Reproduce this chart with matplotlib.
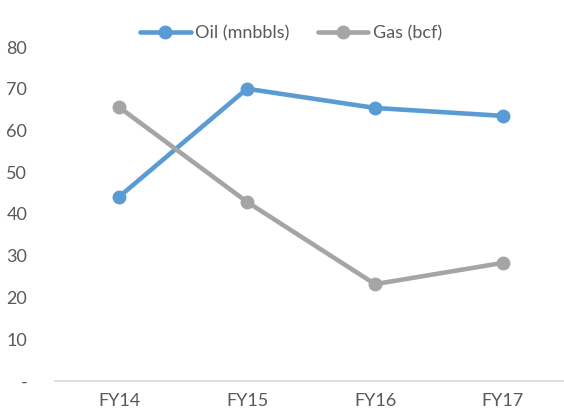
import matplotlib
matplotlib.use("Agg")
import matplotlib.pyplot as plt

# podatki
years = ["FY14", "FY15", "FY16", "FY17"]
oil = [44.1, 70.0, 65.4, 63.5]
gas = [65.6, 42.9, 23.2, 28.3]
y_ticks = [0, 10, 20, 30, 40, 50, 60, 70, 80]
y_labels = ["-", "10", "20", "30", "40", "50", "60", "70", "80"]

oil_color = "#5B9BD5"
gas_color = "#A5A5A5"
text_color = "#595959"

plt.rcParams["font.family"] = ["Lato", "DejaVu Sans"]

fig = plt.figure(figsize=(5.64, 4.16), dpi=100)
ax = fig.add_axes([55 / 564, 35 / 416, 509 / 564, 334 / 416])

x = range(len(years))
ax.plot(x, oil, color=oil_color, lw=3.3, marker="o", ms=9, label="Oil (mnbbls)",
        solid_capstyle="round")
ax.plot(x, gas, color=gas_color, lw=3.3, marker="o", ms=9, label="Gas (bcf)",
        solid_capstyle="round")

ax.set_xlim(-0.5, -0.5 + 509 / 128)
ax.set_ylim(0, 80)
ax.set_xticks(list(x))
ax.set_xticklabels(years)
ax.set_yticks(y_ticks)
ax.set_yticklabels(y_labels)

for s in ["top", "right", "left"]:
    ax.spines[s].set_visible(False)
ax.spines["bottom"].set_color("#D9D9D9")
ax.spines["bottom"].set_linewidth(1.2)
ax.tick_params(axis="both", length=0, labelsize=13, colors=text_color)
ax.tick_params(axis="y", pad=20)
ax.tick_params(axis="x", pad=9)

ax.legend(loc="center", bbox_to_anchor=(291 / 564, 1 - 33 / 416),
          bbox_transform=fig.transFigure, ncol=2, frameon=False,
          fontsize=13, labelcolor=text_color, handlelength=2.8,
          columnspacing=1.55, handletextpad=0.25)

fig.savefig("out.png", dpi=100)
